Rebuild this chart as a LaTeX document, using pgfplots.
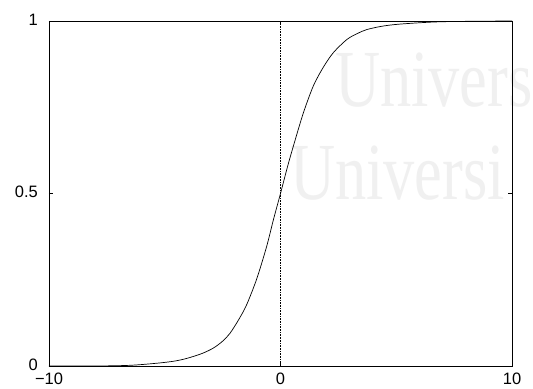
\documentclass[border=0pt]{standalone}
\usepackage{graphicx}
\usepackage{pgfplots}
\pgfplotsset{compat=1.18}
\usepackage{fontspec}
\setmainfont{Liberation Sans}
\newfontfamily\wmfont{Liberation Serif}

\begin{document}
\begin{tikzpicture}
% page = the cropped scan: axis box 463x345 with the labels round it
\clip (-49bp,-23bp) rectangle (484bp,366bp);
\fill[white] (-49bp,-23bp) rectangle (484bp,366bp);

% faint watermark behind the plot (narrow serif)
\node[anchor=base west, inner sep=0pt, text=black!6]
  at (286bp,259bp) {\scalebox{0.77}[1]{\wmfont\fontsize{81bp}{81bp}\selectfont Univers}};
\node[anchor=base west, inner sep=0pt, text=black!6]
  at (241bp,166bp) {\scalebox{0.77}[1]{\wmfont\fontsize{81bp}{81bp}\selectfont Universi}};

\begin{axis}[
  at={(0,0)}, anchor=south west,
  scale only axis,
  width=463bp, height=345bp,
  xmin=-10, xmax=10,
  ymin=0, ymax=1,
  xtick={-10,0,10},
  xticklabels={−10,0,10},
  ytick={0,0.5,1},
  yticklabels={0,0.5,1},
  tick align=inside,
  axis line style={line width=0.9pt},
  tick style={black, line width=0.6pt},
  ticklabel style={font=\fontsize{16.5bp}{16.5bp}\selectfont, inner sep=1bp},
  xticklabel style={yshift=-6bp},
  yticklabel style={xshift=-10bp, yshift=1.5bp},
  /pgf/number format/assume math mode=true,
  axis background/.style={fill=none},
]
  % dotted line at x = 0
  \addplot[black, densely dotted, line width=0.6pt] coordinates {(0,0) (0,1)};

  % curve
  \addplot[black, line width=0.7pt, smooth, tension=0.5] coordinates {
    (-10,0.000) (-8,0.000) (-6.5,0.002) (-5.35,0.008) (-4.6,0.014)
    (-4.05,0.022) (-3.4,0.036) (-2.9,0.052) (-2.5,0.072) (-2.18,0.095)
    (-1.8,0.135) (-1.46,0.178) (-1.03,0.252) (-0.6,0.346) (-0.31,0.423)
    (0,0.500) (0.3,0.577) (0.55,0.636) (0.98,0.732) (1.42,0.812)
    (1.85,0.866) (2.28,0.908) (2.86,0.946) (3.3,0.963) (3.72,0.975)
    (4.4,0.985) (5.16,0.991) (6.6,0.997) (8,0.999) (10,1.000)
  };
\end{axis}
\end{tikzpicture}
\end{document}
